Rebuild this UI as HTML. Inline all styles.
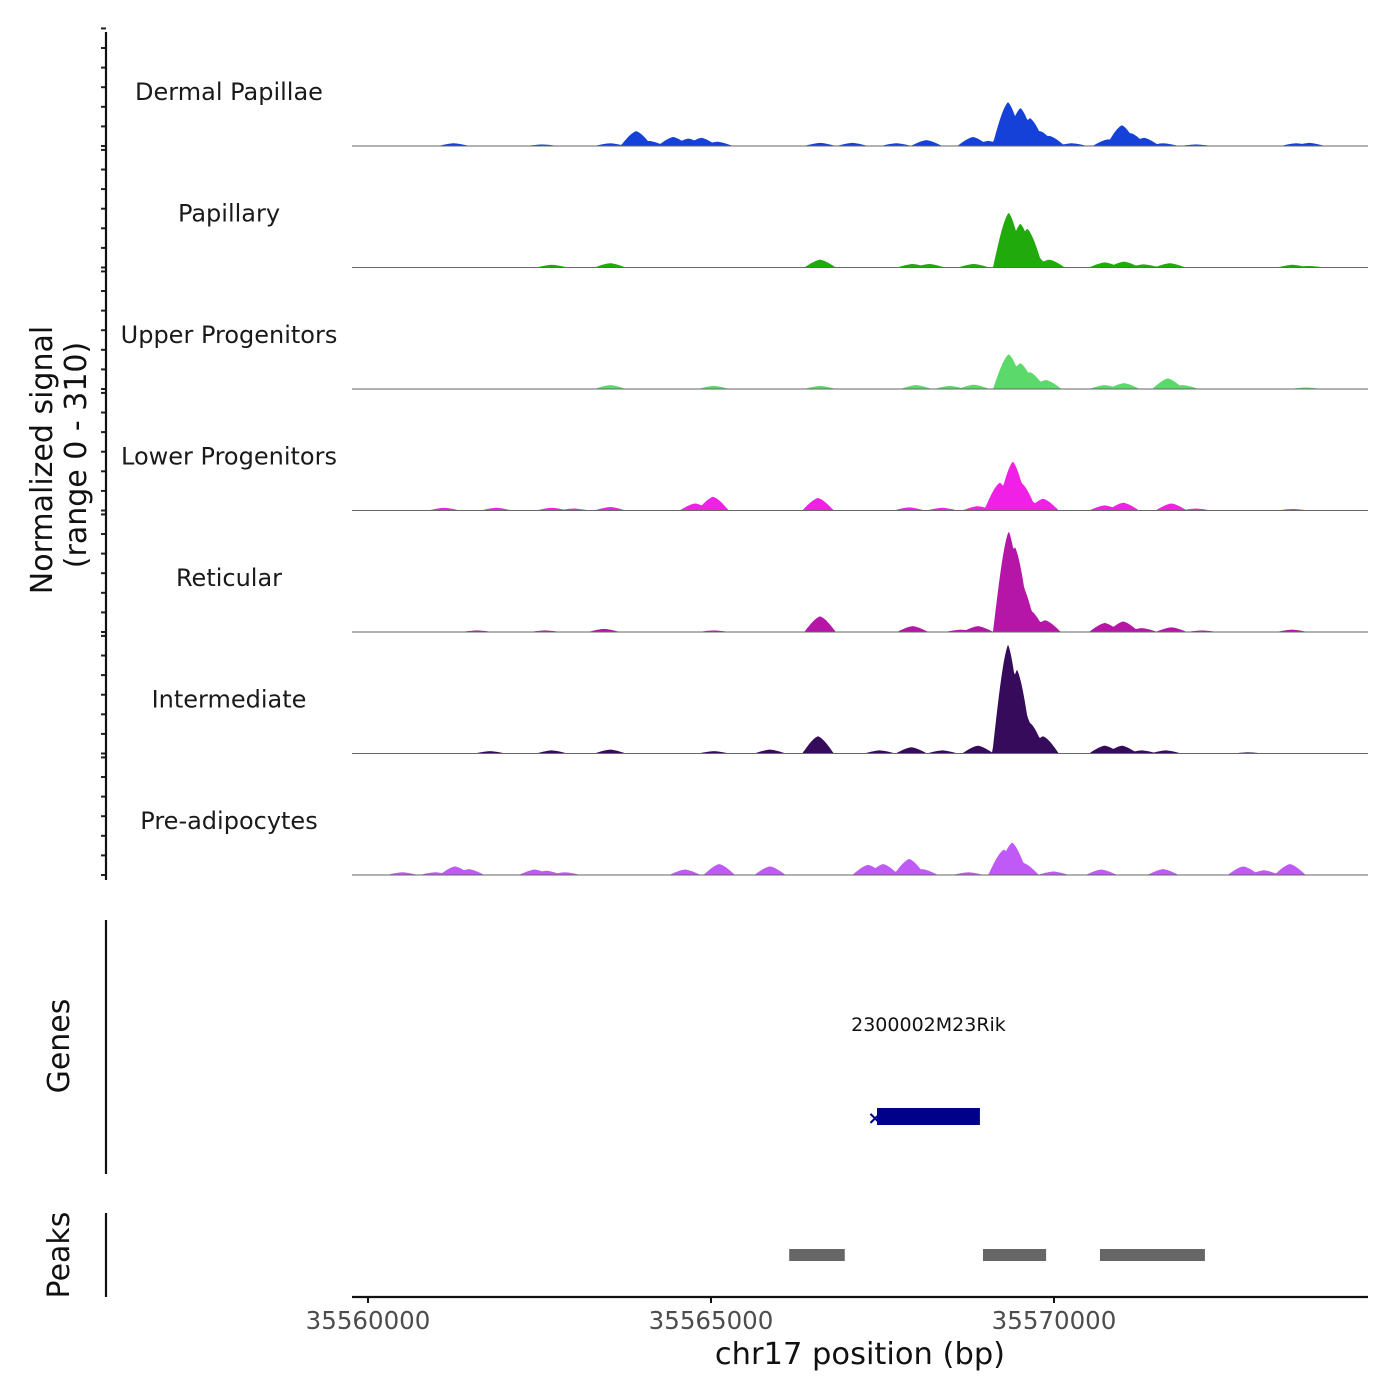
<!DOCTYPE html>
<html><head><meta charset="utf-8"><style>
html,body{margin:0;padding:0;background:#fff;}
svg{display:block;font-family:"DejaVu Sans","Liberation Sans",sans-serif;}
</style></head><body>
<svg id="chart" width="1400" height="1400" viewBox="0 0 1400 1400"></svg>
<script>
// ---- data ----
const trackNames = ["Dermal Papillae","Papillary","Upper Progenitors","Lower Progenitors","Reticular","Intermediate","Pre-adipocytes"];
const trackColors = ["#1641d8","#20aa0b","#5bd96b","#f020e6","#b516a8","#370b5c","#c05af6"];
const dpPos = [35561250,35562540,35563530,35563910,35564100,35564450,35564670,35564860,35565090,35566590,35567060,35567700,35568140,35568820,35569040,35569330,35569510,35569650,35569800,35569930,35570260,35570790,35570990,35571120,35571310,35571590,35572070,35573530,35573720];
const dpVal = [7,4,7,38,13,23,19,21,11,8,8,7,15,23,13,112,97,71,38,26,7,17,53,33,21,7,4,7,8];
const papPos = [35562680,35563530,35566590,35567940,35568180,35568830,35569340,35569510,35569610,35569690,35569930,35570740,35571020,35571310,35571690,35573480,35573720];
const papVal = [7,11,20,9,9,9,140,112,99,36,20,13,15,8,11,7,4];
const upPos = [35563530,35565040,35566590,35567990,35568480,35568830,35569340,35569510,35569650,35569880,35570740,35571020,35571660,35571880,35573670];
const upVal = [10,8,8,10,8,11,89,66,43,23,10,15,27,10,4];
const lowPos = [35561110,35561870,35562680,35563000,35563530,35564770,35565030,35566560,35567890,35568370,35568890,35569210,35569400,35569520,35569650,35569840,35570740,35571010,35571710,35572070,35573480];
const lowVal = [7,7,7,5,9,18,35,32,8,7,11,71,125,71,24,30,13,20,18,5,4];
const retPos = [35561590,35562580,35563440,35565040,35566590,35567940,35568640,35568890,35569340,35569430,35569520,35569650,35569870,35570740,35571010,35571280,35571710,35572160,35573470];
const retVal = [4,4,8,4,40,15,6,15,257,217,125,56,30,23,27,10,12,4,6];
const intPos = [35561780,35562680,35563530,35565040,35565860,35566560,35567460,35567920,35568370,35568890,35569330,35569460,35569550,35569650,35569840,35570740,35570990,35571280,35571630,35572830];
const intVal = [6,8,10,6,10,44,8,16,8,20,278,214,112,78,44,20,20,8,8,3];
const prePos = [35560500,35560980,35561270,35561470,35562430,35562600,35562870,35564620,35565120,35565860,35567290,35567510,35567890,35568080,35568750,35569270,35569390,35569550,35569990,35570690,35571590,35572760,35573060,35573440];
const preVal = [7,7,22,15,14,11,7,14,28,22,26,28,41,15,7,65,83,31,9,14,15,22,12,28];
const trackPos = [dpPos,papPos,upPos,lowPos,retPos,intPos,prePos];
const trackVal = [dpVal,papVal,upVal,lowVal,retVal,intVal,preVal];
const xTicks = [35560000,35565000,35570000];
const geneName = "2300002M23Rik";
const geneStart = 35567420, geneEnd = 35568920;
const peakStarts = [35566140,35568965,35570670];
const peakEnds = [35566950,35569885,35572200];
const signalMax = 310;

// ---- scales ----
const NS="http://www.w3.org/2000/svg";
const svg=document.getElementById('chart');
const X0=352,X1=1368;
function xs(bp){return 368+(bp-35560000)*343/5000;}
const trackH=121.5, firstBase=146;
function base(i){return firstBase+i*trackH;}
function ys(i,v){return base(i)-v*trackH/signalMax;}
function mk(tag,attrs,parent){const e=document.createElementNS(NS,tag);for(const k in attrs)e.setAttribute(k,attrs[k]);(parent||svg).appendChild(e);return e;}

const halfW=230;
for(let t=0;t<trackNames.length;t++){
  const g=mk('g',{});
  
  
  const P=trackPos[t],V=trackVal[t];
  const minX=Math.floor(xs(P[0]-halfW)),maxX=Math.ceil(xs(P[P.length-1]+halfW));
  let d='M'+minX+','+base(t);
  for(let px=minX;px<=maxX;px++){
    const bp=35560000+(px-368)*5000/343;
    let v=0;
    for(let k=0;k<P.length;k++){
      const r=Math.abs(bp-P[k])/halfW;
      if(r<1){const s=V[k]*(1-r*r)*(1-0.35*r);if(s>v)v=s;}
    }
    d+=' L'+px+','+ys(t,v).toFixed(2);
  }
  d+=' L'+maxX+','+base(t)+' Z';
  const area=mk('path',{d:d,fill:trackColors[t]},g);
  
  
  const bl=mk('line',{x1:X0,x2:X1,y1:base(t),y2:base(t),stroke:'#666','stroke-width':1},g);
  
  
  const lb=mk('text',{x:229,y:base(t)-46,'text-anchor':'middle','font-size':24,fill:'#1a1a1a'},g);
  lb.textContent=trackNames[t];
  
  
  for(let v=0;v<=300;v+=50){
    const tk=mk('line',{x1:101,x2:106,y1:ys(t,v),y2:ys(t,v),stroke:'#222','stroke-width':2},g);
    
    
  }
}
const ya=mk('line',{x1:106,x2:106,y1:32,y2:880,stroke:'#111','stroke-width':2.2});


const yt=mk('text',{transform:'translate(52,460) rotate(-90)','text-anchor':'middle','font-size':30,fill:'#111'});
yt.textContent='Normalized signal';


const yt2=mk('text',{transform:'translate(86,455) rotate(-90)','text-anchor':'middle','font-size':30,fill:'#111'});
yt2.textContent='(range 0 - 310)';



// genes panel
const ga=mk('line',{x1:106,x2:106,y1:920,y2:1174,stroke:'#111','stroke-width':2.2});


const gt=mk('text',{transform:'translate(69,1046) rotate(-90)','text-anchor':'middle','font-size':30,fill:'#111'});
gt.textContent='Genes';


const gl=mk('text',{x:(xs(geneStart)+xs(geneEnd))/2,y:1031,'text-anchor':'middle','font-size':19,fill:'#111'});
gl.textContent=geneName;


const gb=mk('rect',{x:xs(geneStart),y:1108,width:xs(geneEnd)-xs(geneStart),height:17,fill:'#00008b'});


const gx=mk('text',{x:xs(geneStart)-2,y:1124,'text-anchor':'middle','font-size':18,'font-weight':'bold',fill:'#00008b'});
gx.textContent='×';



// peaks panel
const pa=mk('line',{x1:106,x2:106,y1:1213,y2:1297,stroke:'#111','stroke-width':2.2});


const pt=mk('text',{transform:'translate(69,1255) rotate(-90)','text-anchor':'middle','font-size':30,fill:'#111'});
pt.textContent='Peaks';


for(let i=0;i<peakStarts.length;i++){
  const r=mk('rect',{x:xs(peakStarts[i]),y:1249,width:xs(peakEnds[i])-xs(peakStarts[i]),height:12,fill:'#666'});
  
  
}

// x axis
const xa=mk('line',{x1:X0,x2:X1,y1:1297,y2:1297,stroke:'#111','stroke-width':2.2});


for(const v of xTicks){
  const tk=mk('line',{x1:xs(v),x2:xs(v),y1:1297,y2:1303,stroke:'#111','stroke-width':2});
  
  
  const tl=mk('text',{x:xs(v),y:1329,'text-anchor':'middle','font-size':24.5,fill:'#4d4d4d'});
  tl.textContent=String(v);
  
  
}
const xt=mk('text',{x:860,y:1364,'text-anchor':'middle','font-size':30.5,fill:'#111'});
xt.textContent='chr17 position (bp)';


</script>
</body></html>
